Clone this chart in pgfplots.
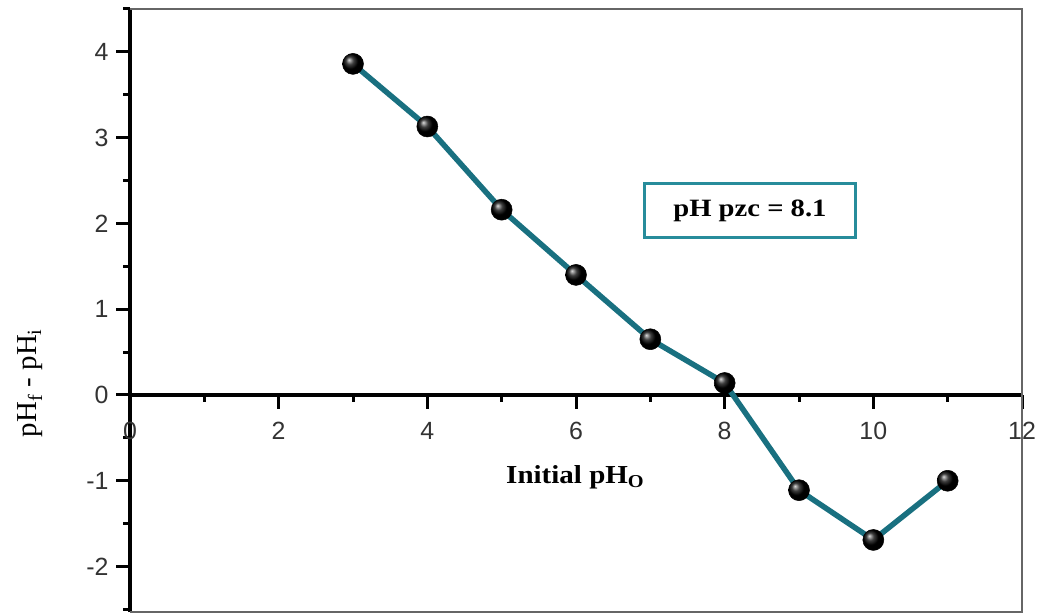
\documentclass[border=0pt]{standalone}
\usepackage{pgfplots}
\pgfplotsset{compat=1.18}
\usepackage{fontspec}
\setmainfont{Liberation Serif}
\newfontfamily\sansf{Liberation Sans}
\definecolor{teal1}{RGB}{25,112,128}
\definecolor{boxteal}{RGB}{40,140,155}
\begin{document}
\begin{tikzpicture}
\useasboundingbox (0,0) rectangle (1040bp,614bp);
\begin{axis}[
  at={(130bp,2bp)}, anchor=south west,
  scale only axis, width=892bp, height=603bp,
  xmin=0, xmax=12, ymin=-2.53, ymax=4.5,
  axis x line=middle, axis y line=left,
  axis line style={-, line width=3.5bp, black},
  hide obscured x ticks=false,
  xtick={0,2,...,12}, ytick={-2,-1,...,4},
  minor xtick={1,3,...,11}, minor ytick={-2.5,-1.5,...,4.5},
  tick align=outside,
  major tick length=14bp, minor tick length=7bp,
  every tick/.style={black, line width=3bp},
  /pgf/number format/assume math mode=true,
  tick label style={font=\fontsize{25}{25}\selectfont\sansf, text=black!80},
  xticklabel style={yshift=-10bp},
  yticklabel style={xshift=-4bp},
  clip=false,
]
\addplot[teal1, line width=5.5bp, mark=ball, mark size=10.5bp, mark options={ball color=black, draw=black, line width=0.5bp}]
  coordinates {(3,3.86) (4,3.13) (5,2.16) (6,1.40) (7,0.65) (8,0.14) (9,-1.11) (10,-1.69) (11,-1.00)};
\draw[black!60, line width=1.8bp] (rel axis cs:0,1) -- (rel axis cs:1,1) -- (rel axis cs:1,0) -- (rel axis cs:0,0);
\node[draw=boxteal, line width=2.8bp, minimum width=183bp, minimum height=54bp, font=\fontsize{25}{25}\selectfont\bfseries, xscale=1.15] at (axis cs:8.34,2.15) {pH pzc = 8.1};
\node[font=\fontsize{26}{26}\selectfont\bfseries, xscale=1.12] at (axis cs:5.99,-0.96) {Initial pH\textsubscript{O}};
\end{axis}
\node[rotate=90, font=\fontsize{29}{29}\selectfont] at (30bp,231bp) {pH\textsubscript{f} - pH\textsubscript{i}};
\end{tikzpicture}
\end{document}
